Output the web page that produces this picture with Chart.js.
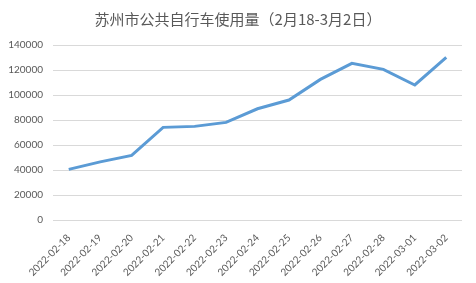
<!DOCTYPE html>
<html>
<head>
<meta charset="utf-8">
<script src="https://cdn.jsdelivr.net/npm/chart.js@4"></script>
<style>
  html, body { margin: 0; padding: 0; background: #fff; }
  canvas { display: block; }
</style>
</head>
<body>
<canvas id="usageChart" width="476" height="283"></canvas>
<script>
const chartTitle = '苏州市公共自行车使用量（2月18-3月2日）';
const dates = ['2022-02-18', '2022-02-19', '2022-02-20', '2022-02-21', '2022-02-22', '2022-02-23', '2022-02-24',
    '2022-02-25', '2022-02-26', '2022-02-27', '2022-02-28', '2022-03-01', '2022-03-02'];
const usage = [40500, 46500, 51700, 74100, 74900, 78100, 89000, 96000, 112500, 125300, 120500, 108000, 130100];
const yTicks = [0, 20000, 40000, 60000, 80000, 100000, 120000, 140000];

document.addEventListener("DOMContentLoaded", function() {
    const ctx = document.getElementById("usageChart").getContext("2d");
    const usageChart = new Chart(ctx, {
        type: 'line',
        data: {
            labels: dates,
            datasets: [{
                label: '使用量',
                data: usage,
                borderColor: '#5B9BD5',
                borderWidth: 3,
                pointRadius: 0,
                tension: 0,
                fill: false
            }]
        },
        options: {
            responsive: false,
            animation: false,
            layout: { padding: { left: 0, right: 14, top: 0, bottom: 0 } },
            plugins: {
                legend: { display: false },
                tooltip: { enabled: false },
                title: {
                    display: true,
                    text: chartTitle,
                    color: '#595959',
                    font: { family: 'Noto Sans CJK SC', size: 15, weight: 'normal' },
                    padding: { top: 10, bottom: 17 }
                }
            },
            scales: {
                y: {
                    min: yTicks[0],
                    max: yTicks[yTicks.length - 1],
                    afterBuildTicks: function(scale) {
                        scale.ticks = yTicks.map(v => ({ value: v }));
                    },
                    afterFit: function(scale) { scale.width = 53; },
                    ticks: {
                        color: '#595959',
                        font: { family: 'Lato', size: 10 },
                        padding: 10,
                        callback: function(value) { return String(value); }
                    },
                    grid: { color: '#d9d9d9', drawTicks: false },
                    border: { display: false }
                },
                x: {
                    offset: true,
                    afterFit: function(scale) { scale.height = 63; },
                    ticks: {
                        color: '#595959',
                        font: { family: 'Lato', size: 10 },
                        maxRotation: 45,
                        minRotation: 45,
                        autoSkip: false,
                        padding: 4
                    },
                    grid: { display: false },
                    border: { display: false }
                }
            }
        },
        plugins: [{
            id: 'centerTitle',
            afterLayout: function(chart) {
                const t = chart.titleBlock;
                if (t) { t.left = 0; t.right = chart.width; t.width = chart.width; }
            }
        }]
    });
});
</script>
</body>
</html>
